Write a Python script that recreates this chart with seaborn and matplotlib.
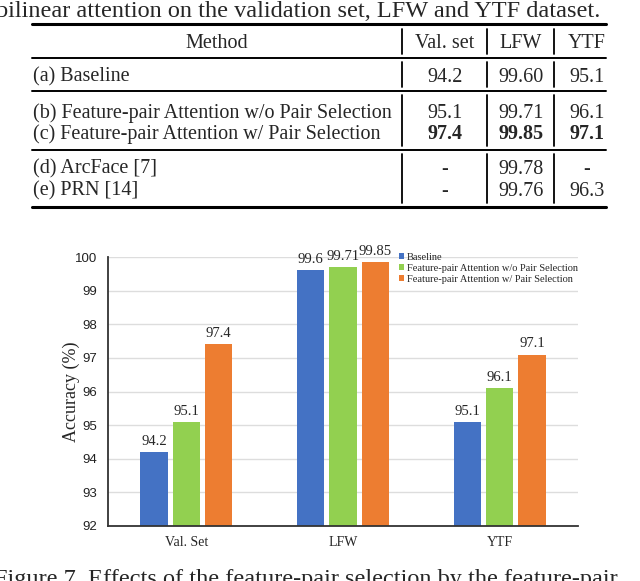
import pandas as pd
import matplotlib.pyplot as plt
import seaborn as sns
from matplotlib.lines import Line2D
from matplotlib.patches import Patch
from matplotlib.ticker import MultipleLocator, AutoMinorLocator

# ================= DATA =================
table_methods = [
    "(a) Baseline",
    "(b) Feature-pair Attention w/o Pair Selection",
    "(c) Feature-pair Attention w/ Pair Selection",
    "(d) ArcFace [7]",
    "(e) PRN [14]",
]
table_val = ["94.2", "95.1", "97.4", "-", "-"]
table_lfw = ["99.60", "99.71", "99.85", "99.78", "99.76"]
table_ytf = ["95.1", "96.1", "97.1", "-", "96.3"]
bold_row = 2

datasets = ["Val. Set", "LFW", "YTF"]
series_names = [
    "Baseline",
    "Feature-pair Attention w/o Pair Selection",
    "Feature-pair Attention w/ Pair Selection",
]
baseline = [94.2, 99.6, 95.1]
without_sel = [95.1, 99.71, 96.1]
with_sel = [97.4, 99.85, 97.1]
colors = ["#4472C4", "#92D050", "#ED7D31"]

df = pd.DataFrame({
    "dataset": datasets * 3,
    "acc": baseline + without_sel + with_sel,
    "method": [series_names[0]] * 3 + [series_names[1]] * 3 + [series_names[2]] * 3,
})

# ================= STYLE =================
sns.set_style("white")
plt.rcParams["font.family"] = ["Liberation Serif", "DejaVu Serif"]

W, H = 640, 581
fig = plt.figure(figsize=(W / 100, H / 100), dpi=100)


def fx(x):
    return x / W


def fy(y):
    return 1 - y / H


def hline(y, x0, x1, lw):
    fig.add_artist(Line2D([fx(x0), fx(x1)], [fy(y), fy(y)], color="black", lw=lw))


def vline(x, y0, y1):
    fig.add_artist(Line2D([fx(x), fx(x)], [fy(y0), fy(y1)], color="black", lw=1.3))


# ================= TABLE =================
fig.text(fx(-4), fy(17), "bilinear attention on the validation set, LFW and YTF dataset.",
         fontsize=17.5, va="baseline", ha="left")

hline(24, 32, 606, 2.2)
hline(58, 32, 606, 1.4)
hline(91, 32, 606, 1.4)
hline(150, 32, 606, 1.4)
hline(207, 32, 606, 2.2)

for x in [402, 487, 554]:
    for y0, y1 in [(29, 54), (62, 87), (95, 146), (154, 203)]:
        vline(x, y0, y1)

col_x = [445, 521, 587]
fs = 14.5
fig.text(fx(217), fy(43), "Method", fontsize=fs, ha="center", va="center")
for cx, head in zip(col_x, ["Val. set", "LFW", "YTF"]):
    fig.text(fx(cx), fy(43), head, fontsize=fs, ha="center", va="center")

row_y = [77, 113, 134, 169, 191]
for i, (m, v, l, t) in enumerate(zip(table_methods, table_val, table_lfw, table_ytf)):
    fig.text(fx(33), fy(row_y[i]), m, fontsize=fs, ha="left", va="center")
    w = "bold" if i == bold_row else "normal"
    for cx, val in zip(col_x, [v, l, t]):
        fig.text(fx(cx), fy(row_y[i]), val, fontsize=fs, ha="center", va="center", fontweight=w)

# ================= CHART =================
ax = fig.add_axes([fx(108), fy(526), fx(578) - fx(108), fy(257) - fy(526)])
sns.barplot(data=df, x="dataset", y="acc", hue="method", palette=colors, saturation=1,
            width=0.62, gap=0.15, linewidth=0, ax=ax)
ax.set_ylim(92, 100)
ax.set_axisbelow(True)
ax.yaxis.set_major_locator(MultipleLocator(1))
ax.yaxis.set_minor_locator(AutoMinorLocator(5))
ax.grid(axis="y", which="major", color="#dddddd", lw=1)

for c in ax.containers:
    ax.bar_label(c, fmt="%g", padding=3, fontsize=10.5)

for s in ["top", "right"]:
    ax.spines[s].set_visible(False)
for s in ["left", "bottom"]:
    ax.spines[s].set_color("#333333")
    ax.spines[s].set_linewidth(1.3)

ax.tick_params(axis="y", which="major", length=4, width=1, color="#333333", direction="out")
ax.tick_params(axis="y", which="minor", length=2.5, width=0.9, color="#333333", direction="out")
ax.tick_params(axis="x", length=0, pad=7, labelsize=10)
for lab in ax.get_yticklabels():
    lab.set_fontfamily("Liberation Sans")
    lab.set_fontsize(9.5)
    lab.set_color("#222222")

ax.set_xlabel("")
ax.set_ylabel("Accuracy (%)", fontsize=13)
ax.yaxis.set_label_coords(-0.06, 0.5)

ax.get_legend().remove()
handles = [Patch(facecolor=c, edgecolor="none") for c in colors]
fig.legend(handles, series_names, loc="upper left", bbox_to_anchor=(fx(399), fy(253)),
           frameon=False, fontsize=7.5, handlelength=0.5, handleheight=0.5,
           handletextpad=0.25, labelspacing=0.2, borderpad=0, borderaxespad=0)

fig.text(fx(-6), fy(585), "Figure 7. Effects of the feature-pair selection by the feature-pair",
         fontsize=17.5, va="baseline", ha="left")

fig.savefig("out.png", dpi=100)
